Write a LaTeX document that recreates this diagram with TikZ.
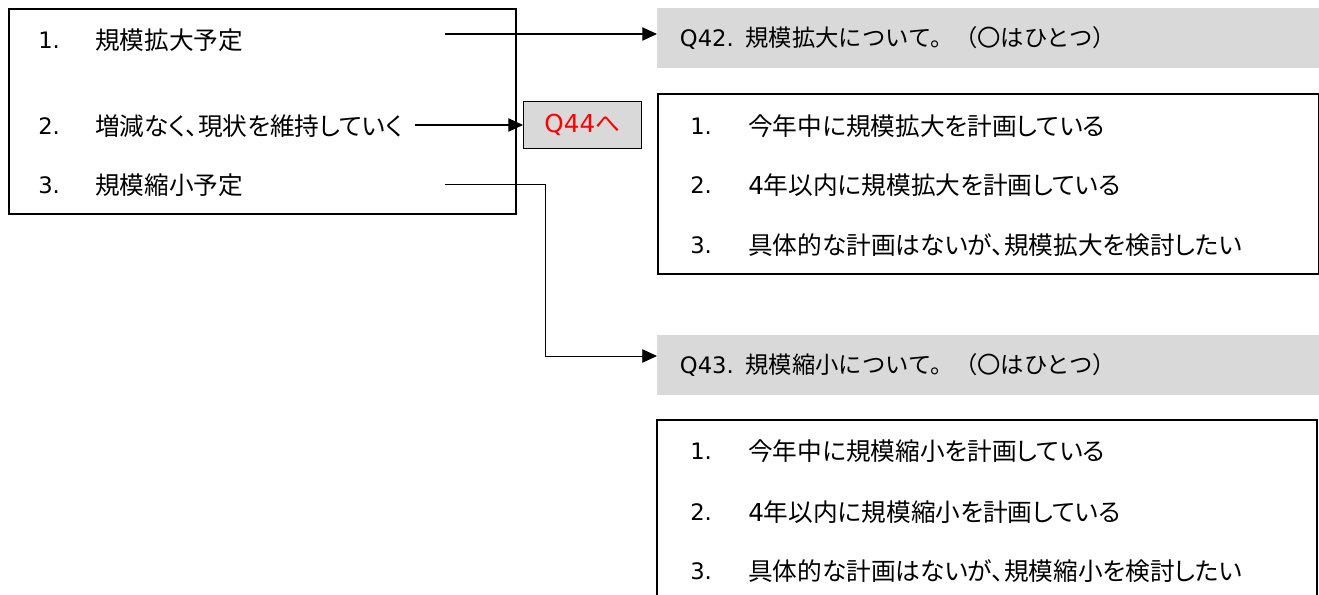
\documentclass[tikz,border=0pt]{standalone}
\usepackage{fontspec}
\setmainfont[RawFeature=+palt]{Noto Sans CJK JP}
\newfontfamily\wide{Noto Sans CJK JP}
\newfontfamily\latin{DejaVu Sans}
\usetikzlibrary{arrows.meta,positioning}
\definecolor{headgray}{HTML}{D9D9D9}
\definecolor{jumpred}{HTML}{FF0000}

\begin{document}
\begin{tikzpicture}[x=0.75pt,y=-0.75pt,
  every node/.style={font=\fontsize{18.5}{22}\selectfont},
  item/.style={anchor=west,inner sep=0pt},
  num/.style={item,font=\fontsize{17}{20}\selectfont\latin},
  frame/.style={draw,line width=1.5pt,anchor=north west,inner sep=0pt},
  qhead/.style={fill=headgray,anchor=north west,minimum width=497pt,
    minimum height=45pt,text width=463pt,inner xsep=17pt,align=left,
    font=\fontsize{17.5}{22}\selectfont\wide},
  jump/.style={draw,line width=0.6pt,fill=headgray,text=jumpred,
    anchor=north west,minimum width=88.5pt,minimum height=35pt,inner sep=0pt},
  conn/.style={line width=0.8pt,-{Triangle[length=11pt,width=10pt]}}]
%
\useasboundingbox (0,0) rectangle (1319,595);
%
% left question
\node[frame,minimum width=380pt,minimum height=154pt] (lbox) at (8,8) {};
\node[num] (n1) at (38,40) {1.};
\node[item] (a1) at (95,40) {規模拡大予定};
\node[num] (n2) at (38,126) {2.};
\node[item] (a2) at (95,126) {増減なく、現状を維持していく};
\node[num] (n3) at (38,185) {3.};
\node[item] (a3) at (95,185) {規模縮小予定};
%
% Q42
\node[qhead] (q42) at (657,8) {{\fontsize{17}{20}\selectfont\latin Q42.} 規模拡大について。（〇はひとつ）};
\node[frame,minimum width=496pt,minimum height=135pt] (b42) at (657,93) {};
\node[num] (m1) at (690,126) {1.};
\node[item] (c1) at (748,126) {今年中に規模拡大を計画している};
\node[num] (m2) at (690,185) {2.};
\node[item] (c2) at (748,185) {{\latin 4}年以内に規模拡大を計画している};
\node[num] (m3) at (690,245) {3.};
\node[item] (c3) at (748,245) {具体的な計画はないが、規模拡大を検討したい};
%
% Q44
\node[jump] (q44) at (523,101) {{\latin Q44}へ};
%
% Q43
\node[qhead] (q43) at (657,335) {{\fontsize{17}{20}\selectfont\latin Q43.} 規模縮小について。（〇はひとつ）};
\draw[line width=1.5pt] (657,600) -- (657,420) -- (1317,420) -- (1317,600);
\node[num] (p1) at (690,451) {1.};
\node[item] (d1) at (748,451) {今年中に規模縮小を計画している};
\node[num] (p2) at (690,512) {2.};
\node[item] (d2) at (748,512) {{\latin 4}年以内に規模縮小を計画している};
\node[num] (p3) at (690,571) {3.};
\node[item] (d3) at (748,571) {具体的な計画はないが、規模縮小を検討したい};
%
\coordinate (s1) at (445,34);
\coordinate (s2) at (415,125);
\coordinate (s3) at (445,184);
\coordinate (k3) at (545,356);
%
\draw[conn] (s1) -- (s1 -| q42.west);
\draw[conn] (s2) -- (s2 -| q44.west);
\draw[conn,line width=0.6pt] (s3) -| (k3) -- (k3 -| q43.west);
%
\end{tikzpicture}
\end{document}
